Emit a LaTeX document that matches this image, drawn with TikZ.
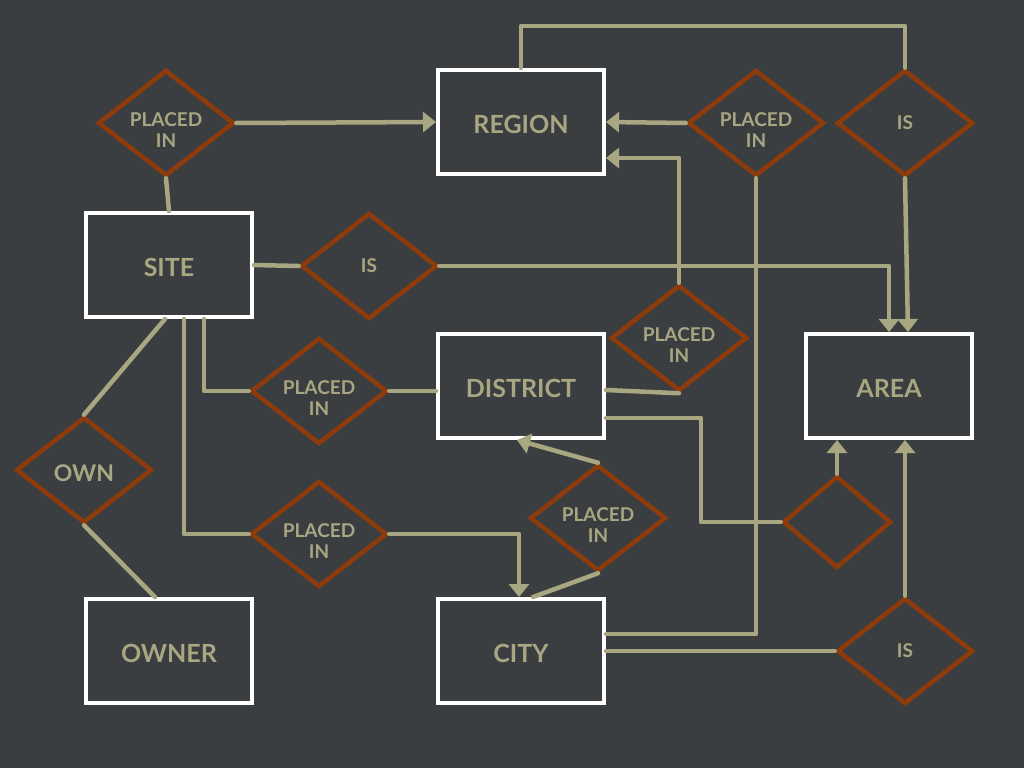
\documentclass[tikz,border=0pt]{standalone}
\usepackage{fontspec}
\setmainfont{Lato}
\usetikzlibrary{shapes.geometric,arrows.meta}

\definecolor{slate}{HTML}{3B3E41}
\definecolor{khaki}{HTML}{A9A682}
\definecolor{rust}{HTML}{8E3B0C}

\tikzset{
  entity/.style={draw=white, line width=4pt, rectangle, minimum width=166pt,
    minimum height=104pt, text=khaki, text height=22pt, text depth=0pt,
    font=\bfseries\fontsize{25}{29}\selectfont},
  rel/.style={draw=rust, line width=4.5pt, diamond, minimum width=136pt,
    minimum height=106pt, inner sep=0pt, text=khaki, align=center,
    font=\bfseries\fontsize{19}{21}\selectfont},
  twoline/.style={text height=49pt, text depth=0pt, inner sep=-15pt},
  link/.style={draw=khaki, line width=4.5pt, line cap=round, line join=round},
  arr/.style={link, -{Triangle[width=20pt,length=13pt]}}
}

\begin{document}
\begin{tikzpicture}[x=1pt,y=-1pt]
		% background
		\fill[slate] (0,0) rectangle (1024,768);
		\useasboundingbox (0,0) rectangle (1024,768);

		% Entities
		\node[entity] (region)   at (521,122) {REGION};
		\node[entity] (site)     at (169,265) {SITE};
		\node[entity] (district) at (521,386) {DISTRICT};
		\node[entity] (area)     at (889,386) {AREA};
		\node[entity] (owner)    at (169,651) {OWNER};
		\node[entity] (city)     at (521,651) {CITY};

		% Relations
		\node[rel, twoline] (plreg)  at (166,123) {PLACED\\IN};
		\node[rel, twoline] (plreg2) at (756,123) {PLACED\\IN};
		\node[rel] (isreg)  at (905,123) {IS};
		\node[rel] (issite) at (369,266) {IS};
		\node[rel, twoline] (pldist) at (679,338) {PLACED\\IN};
		\node[rel, twoline] (plsite) at (319,391) {PLACED\\IN};
		\node[rel, text height=23pt, text depth=0pt,
		  font=\bfseries\fontsize{23}{27}\selectfont] (own) at (84,470) {OWN};
		\node[rel, twoline] (plcity) at (319,534) {PLACED\\IN};
		\node[rel, twoline] (plcd)   at (598,518) {PLACED\\IN};
		\node[rel, minimum width=108pt, minimum height=92pt] (blank) at (837,522) {};
		\node[rel] (iscity) at (905,651) {IS};

		% Connectors around REGION
		\draw[arr] (plreg.east) -- (region.west);
		\draw[link] (plreg.south) -- (site.north);
		\draw[link] (region.north) -- ++(0,-42) -| (isreg.north);
		\draw[arr] (isreg.south) -- ([xshift=19pt]area.north);
		\draw[arr] (plreg2.west) -- (region.east);
		\draw[link] (plreg2.south) |- ([yshift=17pt]city.east);
		\draw[arr] (pldist.north) |- ([yshift=-36pt]region.east);

		% Connectors from SITE
		\draw[link] (site.east) -- (issite.west);
		\draw[arr] (issite.east) -| (area.north);
		\draw[link] ([xshift=35pt]site.south) |- (plsite.west);
		\draw[link] (plsite.east) -- (plsite.east -| district.west);
		\draw[link] ([xshift=-4pt]site.south) -- (own.north);
		\draw[link] (own.south) -- ([xshift=-14pt]owner.north);
		\draw[link] ([xshift=15pt]site.south) |- (plcity.west);
		\draw[arr] (plcity.east) -| ([xshift=-2pt]city.north);

		% Connectors around DISTRICT and CITY
		\draw[link] (pldist.south) -- ([yshift=-4pt]district.east);
		\draw[arr] (plcd.north) -- ([xshift=-4pt]district.south);
		\draw[link] (plcd.south) -- ([xshift=12pt]city.north);
		\draw[link] ([yshift=-32pt]district.east) -- ++(95,0) |- (blank.west);
		\draw[arr] (blank.north) -- (blank.north |- area.south);
		\draw[arr] (iscity.north) -- (iscity.north |- area.south);
		\draw[link] (city.east) -- (iscity.west);

	\end{tikzpicture}
\end{document}
